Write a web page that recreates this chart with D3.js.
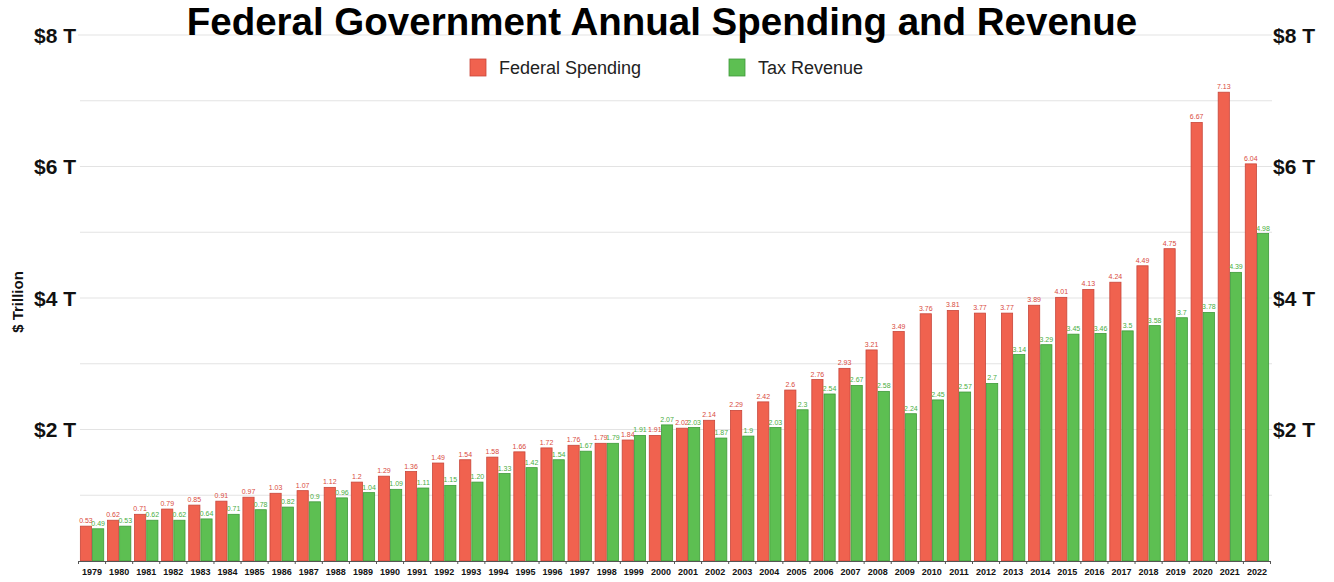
<!DOCTYPE html>
<html><head><meta charset="utf-8">
<script src="https://cdn.jsdelivr.net/npm/d3@7"></script>
<style>body{margin:0;background:#fff;}svg{display:block;font-family:"Liberation Sans",Arial,sans-serif;}</style>
</head><body>
<svg id="c" width="1334" height="582"></svg>
<script>
const years = ["1979","1980","1981","1982","1983","1984","1985","1986","1987","1988","1989","1990","1991","1992","1993","1994","1995","1996","1997","1998","1999","2000","2001","2002","2003","2004","2005","2006","2007","2008","2009","2010","2011","2012","2013","2014","2015","2016","2017","2018","2019","2020","2021","2022"];
const spending = [0.53,0.62,0.71,0.79,0.85,0.91,0.97,1.03,1.07,1.12,1.2,1.29,1.36,1.49,1.54,1.58,1.66,1.72,1.76,1.79,1.84,1.91,2.02,2.14,2.29,2.42,2.6,2.76,2.93,3.21,3.49,3.76,3.81,3.77,3.77,3.89,4.01,4.13,4.24,4.49,4.75,6.67,7.13,6.04];
const revenue = [0.49,0.53,0.62,0.62,0.64,0.71,0.78,0.82,0.9,0.96,1.04,1.09,1.11,1.15,1.20,1.33,1.42,1.54,1.67,1.79,1.91,2.07,2.03,1.87,1.9,2.03,2.3,2.54,2.67,2.58,2.24,2.45,2.57,2.7,3.14,3.29,3.45,3.46,3.5,3.58,3.7,3.78,4.39,4.98];
const revenueLabels = ["0.49","0.53","0.62","0.62","0.64","0.71","0.78","0.82","0.9","0.96","1.04","1.09","1.11","1.15","1.20","1.33","1.42","1.54","1.67","1.79","1.91","2.07","2.03","1.87","1.9","2.03","2.3","2.54","2.67","2.58","2.24","2.45","2.57","2.7","3.14","3.29","3.45","3.46","3.5","3.58","3.7","3.78","4.39","4.98"];
const gridTicks = [1,2,3,4,5,6,7,8];
const labelTicks = [2,4,6,8];
const seriesNames = ["Federal Spending","Tax Revenue"];

const svg = d3.select("#c");
const x = d3.scaleBand().domain(years).range([78.5,1270.5]).paddingInner(0.1).paddingOuter(0.05);
const y = d3.scaleLinear().domain([0,8]).range([561,35]);
const fill = ["#f0624f","#5dbf52"];
const stroke = ["#c8463a","#3f9a3a"];
const txt = ["#d94b3e","#4aae42"];

// gridlines
svg.append("g").selectAll("line").data(gridTicks).join("line")
  .attr("x1",d=>d===8?78:80).attr("x2",1272)
  .attr("y1",d=>y(d)).attr("y2",d=>y(d))
  .attr("stroke","#e3e3e3").attr("stroke-width",1.2);

// y labels
const lab = svg.append("g");
lab.selectAll("text.l").data(labelTicks).join("text").attr("class","l")
  .attr("x",76).attr("y",d=>y(d)+7.5).attr("text-anchor","end")
  .attr("font-size",21).attr("font-weight","bold").attr("fill","#111")
  .text(d=>"$"+d+" T");
lab.selectAll("text.r").data(labelTicks).join("text").attr("class","r")
  .attr("x",1273).attr("y",d=>y(d)+7.5).attr("text-anchor","start")
  .attr("font-size",21).attr("font-weight","bold").attr("fill","#111")
  .text(d=>"$"+d+" T");
svg.append("text").attr("transform","translate(23,302) rotate(-90)")
  .attr("text-anchor","middle").attr("font-size",15).attr("font-weight","bold").attr("fill","#111")
  .text("$ Trillion");

// bars
const bw = x.bandwidth()/2;
const groups = [spending, revenue];
const labels = [spending.map(String), revenueLabels];
groups.forEach((vals,si)=>{
  const g = svg.append("g");
  g.selectAll("rect").data(years).join("rect")
    .attr("x",(d)=>x(d)+si*bw+0.5)
    .attr("y",(d,i)=>y(vals[i]))
    .attr("width",bw-1)
    .attr("height",(d,i)=>y(0)-y(vals[i]))
    .attr("fill",fill[si]).attr("stroke",stroke[si]).attr("stroke-width",0.8);
  g.selectAll("text").data(years).join("text")
    .attr("x",(d)=>x(d)+si*bw+bw/2)
    .attr("y",(d,i)=>y(vals[i])-3)
    .attr("text-anchor","middle").attr("font-size",7).attr("fill",txt[si])
    .text((d,i)=>labels[si][i]);
});

// x axis
const xa = svg.append("g").attr("transform","translate(0,561)")
  .call(d3.axisBottom(x).tickSize(0).tickPadding(8));
xa.select(".domain").attr("stroke","#555").attr("stroke-width",1);
xa.selectAll("text").attr("font-size",9).attr("font-weight","bold").attr("fill","#111")
  .attr("font-family","Liberation Sans, Arial, sans-serif");
const step = x.step();
svg.append("g").selectAll("line").data(d3.range(years.length+1)).join("line")
  .attr("x1",i=>78.5+x.paddingOuter()*step - x.paddingInner()*step/2 + i*step)
  .attr("x2",i=>78.5+x.paddingOuter()*step - x.paddingInner()*step/2 + i*step)
  .attr("y1",561).attr("y2",564).attr("stroke","#555");

// title
svg.append("text").attr("x",662).attr("y",35).attr("text-anchor","middle")
  .attr("font-size",38.5).attr("font-weight","bold").attr("fill","#000")
  .text("Federal Government Annual Spending and Revenue");

// legend
const leg = svg.append("g");
const lx = [470,729];
seriesNames.forEach((n,i)=>{
  leg.append("rect").attr("x",lx[i]).attr("y",59).attr("width",16).attr("height",17)
    .attr("fill",fill[i]).attr("stroke",stroke[i]).attr("stroke-width",0.8);
  leg.append("text").attr("x",lx[i]+29).attr("y",74).attr("font-size",18).attr("fill","#222").text(n);
});
</script>
</body></html>
